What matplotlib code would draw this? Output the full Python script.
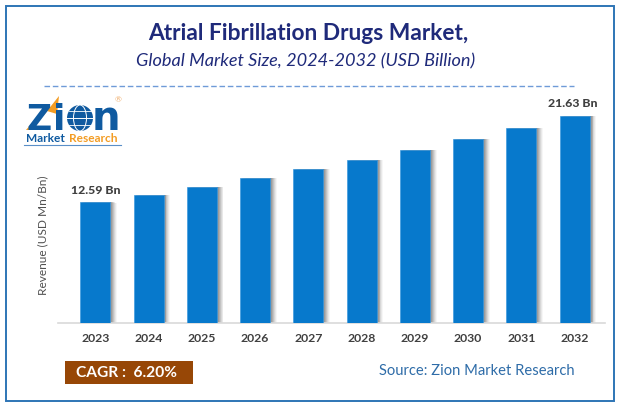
import matplotlib
matplotlib.use("Agg")
import matplotlib.pyplot as plt
from matplotlib.patches import Rectangle, Circle, Polygon, Ellipse
import numpy as np

W, H = 621, 407
years = ['2023','2024','2025','2026','2027','2028','2029','2030','2031','2032']
values = [12.59, 13.37, 14.2, 15.1, 16.08, 17.0, 18.06, 19.2, 20.37, 21.63]
first_label = '12.59 Bn'
last_label = '21.63 Bn'
title = 'Atrial Fibrillation Drugs Market,'
subtitle = 'Global Market Size, 2024-2032 (USD Billion)'
ylabel = 'Revenue (USD Mn/Bn)'
cagr = 'CAGR :  6.20%'
source = 'Source: Zion Market Research'

plt.rcParams['font.family'] = ['Lato', 'DejaVu Sans']
fig = plt.figure(figsize=(W/100, H/100), dpi=100, facecolor='white')

# full-figure overlay in pixel coordinates (y down)
bg = fig.add_axes([0, 0, 1, 1], zorder=0)
bg.set_xlim(0, W); bg.set_ylim(H, 0); bg.axis('off')
bg.add_patch(Rectangle((5.5, 5.5), 608.5, 395.5, fill=False, ec='#2e75b6', lw=1.4))
bg.plot([44, 574], [86, 86], color='#6f9bd8', lw=1, dashes=(4, 2))
bg.text(308.5, 34, title, ha='center', va='center', fontsize=16.4, fontweight='bold', color='#1f2a7a')
bg.text(305.5, 61, subtitle, ha='center', va='center', fontsize=13.1, style='italic', color='#1f2a7a')
bg.add_patch(Rectangle((65, 361), 128, 23, fc='#974706', ec='none'))
bg.text(127, 373, cagr, ha='center', va='center', fontsize=11.2, fontweight='bold', color='white')
bg.text(477, 371, source, ha='center', va='center', fontsize=10.6, color='#2e6ca8')

# logo
blue = '#0f5aa0'; orange = '#f39c23'
bg.text(26, 130, 'Z', ha='left', va='baseline', fontsize=25, fontweight='bold', color=blue, family='DejaVu Sans')
bg.text(53, 130, 'i', ha='left', va='baseline', fontsize=26, fontweight='bold', color=blue, family='DejaVu Sans')
bg.add_patch(Circle((80, 118), 13, fc=blue, ec='none'))
bg.add_patch(Ellipse((80, 118), 13, 26, fill=False, ec='white', lw=0.7))
bg.plot([67, 93], [118, 118], color='white', lw=0.7)
bg.plot([69, 91], [111, 111], color='white', lw=0.6)
bg.plot([69, 91], [125, 125], color='white', lw=0.6)
bg.text(92, 130, 'n', ha='left', va='baseline', fontsize=29, fontweight='bold', color=blue, family='DejaVu Sans')
bg.add_patch(Polygon([[26, 130], [47, 105], [50, 108], [31, 130]], fc=orange, ec='none'))
bg.add_patch(Polygon([[47, 111], [59, 96], [57, 114]], fc=orange, ec='none'))
bg.text(118, 100, '®', ha='center', va='center', fontsize=6, color='#f0b070')
bg.text(26, 139, 'Market', ha='left', va='center', fontsize=8.6, fontweight='bold', color=blue)
bg.text(69, 139, 'Research', ha='left', va='center', fontsize=8.6, fontweight='bold', color=orange)
bg.plot([24, 121], [145, 145], color='#5a8fc8', lw=0.8)

# chart
L, R, T, B = 58, 605, 100, 323
ax = fig.add_axes([L/W, 1-B/H, (R-L)/W, (B-T)/H], zorder=1)
ax.patch.set_alpha(0)
x = np.arange(len(years))
ax.set_xlim(-0.70, 9.57)
ax.set_ylim(0, 23.28)
bar_w = 30/53.3
# soft shadow on the right of each bar
for off, al in zip(np.linspace(0.125, 0.02, 7), [0.05, 0.08, 0.11, 0.14, 0.17, 0.2, 0.25]):
    ax.bar(x+off, np.array(values)-0.1*off, width=bar_w, color='#505050', alpha=al, lw=0, zorder=2)
ax.bar(x, values, width=bar_w, color='#0779cc', ec='#3f9ade', lw=0.5, zorder=3)
ax.set_xticks(x, years)
ax.set_yticks([])
for s in ['top', 'left', 'right']:
    ax.spines[s].set_visible(False)
ax.spines['bottom'].set_color('#d9d9d9')
ax.spines['bottom'].set_linewidth(1.2)
ax.tick_params(axis='x', length=0, pad=7, labelsize=8.8, labelcolor='#404040')
for t in ax.get_xticklabels():
    t.set_fontweight('bold')
ax.text(x[0]+0.01, values[0]+0.68, first_label, ha='center', va='bottom', fontsize=8.8, fontweight='black', color='#404040')
ax.text(x[-1]-0.04, values[-1]+0.68, last_label, ha='center', va='bottom', fontsize=8.8, fontweight='black', color='#404040')
bg.text(43, 235, ylabel, rotation=90, ha='center', va='center', fontsize=8.6, color='#505050')

fig.savefig('out.png', dpi=100)
